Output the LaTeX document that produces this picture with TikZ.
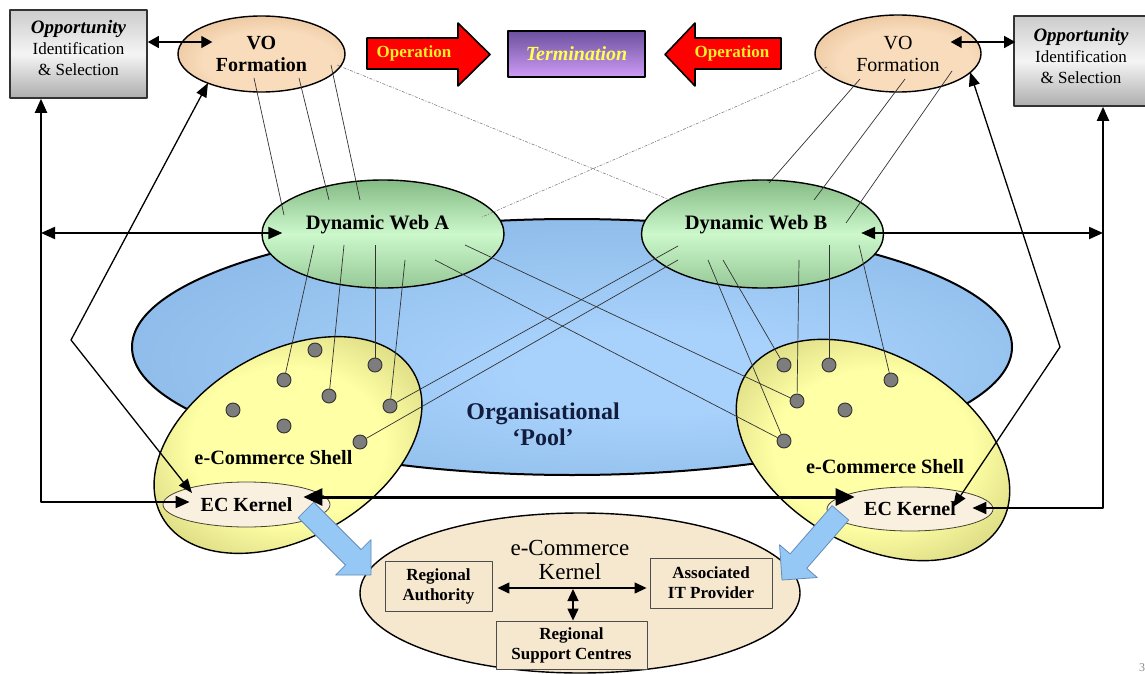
\documentclass[tikz,border=0pt]{standalone}
\usepackage{fontspec}
\setmainfont{Liberation Serif}
\usetikzlibrary{arrows.meta,calc,shapes.geometric}

\definecolor{poolin}{RGB}{168,210,252}
\definecolor{poolout}{RGB}{116,164,214}
\definecolor{shellin}{RGB}{255,255,165}
\definecolor{shellout}{RGB}{148,146,68}
\definecolor{voin}{RGB}{248,220,188}
\definecolor{voout}{RGB}{212,156,102}
\definecolor{webtop}{RGB}{132,186,132}
\definecolor{webmid}{RGB}{204,248,204}
\definecolor{webbot}{RGB}{150,200,150}
\definecolor{termtop}{RGB}{108,80,158}
\definecolor{termbot}{RGB}{206,156,246}
\definecolor{cream}{RGB}{246,232,206}
\definecolor{ecfill}{RGB}{250,240,224}
\definecolor{arrowblue}{RGB}{150,200,245}
\definecolor{arrowedge}{RGB}{100,140,185}
\definecolor{optext}{RGB}{255,238,40}
\definecolor{termtext}{RGB}{255,255,80}
\definecolor{dotfill}{RGB}{125,125,125}
\definecolor{pooltext}{RGB}{18,28,60}

\pgfdeclareradialshading{poolshade}{\pgfpoint{6bp}{-6bp}}{color(0bp)=(poolin); color(8bp)=(poolin); color(50bp)=(poolout)}
\pgfdeclareradialshading{shellshade}{\pgfpoint{0bp}{0bp}}{color(0bp)=(shellin); color(16bp)=(shellin); color(50bp)=(shellout)}
\pgfdeclareradialshading{voshade}{\pgfpoint{4bp}{-8bp}}{color(0bp)=(voin); color(20bp)=(voin); color(50bp)=(voout)}

\tikzset{
  oppbox/.style={draw=black!80, line width=1.6pt, top color=black!20, bottom color=black!32, middle color=black!4, inner sep=0pt},
  opptext/.style={align=center, font=\fontsize{17}{21}\selectfont},
  voell/.style={ellipse, draw=black, line width=1.4pt, shading=voshade, inner sep=0pt, align=center, font=\fontsize{20}{22}\selectfont},
  termbox/.style={draw=black, line width=1.4pt, top color=termtop, bottom color=termbot, inner sep=0pt, text=termtext, font=\fontsize{20}{22}\selectfont\bfseries\itshape},
  opshape/.style={draw=black, line width=1.6pt, fill=red},
  optextstyle/.style={text=optext, font=\fontsize{17}{20}\selectfont\bfseries},
  poolell/.style={ellipse, draw=black, line width=2pt, shading=poolshade, inner sep=0pt},
  poollabel/.style={text=pooltext, align=center, font=\fontsize{24}{26}\selectfont\bfseries},
  webell/.style={ellipse, draw=black, line width=1.4pt, top color=webtop, bottom color=webbot, middle color=webmid, inner sep=0pt},
  weblabel/.style={font=\fontsize{20.5}{22}\selectfont\bfseries},
  shellell/.style={ellipse, draw=black, line width=1.4pt, shading=shellshade, inner sep=0pt},
  shelllabel/.style={font=\fontsize{20.3}{22}\selectfont\bfseries},
  ecell/.style={ellipse, draw=black!65!olive, line width=0.8pt, fill=ecfill, inner sep=0pt, font=\fontsize{20}{22}\selectfont\bfseries},
  kernell/.style={ellipse, draw=black, line width=1.4pt, fill=cream, inner sep=0pt},
  kernlabel/.style={align=center, font=\fontsize{23}{24}\selectfont},
  kernbox/.style={draw=black!70, line width=0.9pt, fill=cream, inner sep=0pt, align=center, font=\fontsize{17}{20}\selectfont\bfseries},
  member/.style={circle, draw=black!80, line width=0.9pt, fill=dotfill, minimum size=14pt, inner sep=0pt},
  link/.style={draw=black!80, line width=0.7pt},
  faint/.style={draw=black!50, line width=0.6pt, dash pattern=on 3pt off 1.5pt on 1pt off 1.5pt},
  bluearrow/.style={fill=arrowblue, draw=arrowedge, line width=0.8pt},
  smallarrows/.style={line width=1.2pt, {Triangle[length=11pt,width=12pt]}-{Triangle[length=11pt,width=12pt]}},
  bigline/.style={line width=2pt, {Triangle[length=14pt,width=12pt]}-{Triangle[length=14pt,width=12pt]}},
  bentline/.style={line width=1.3pt, {Triangle[length=14pt,width=11pt]}-{Triangle[length=14pt,width=11pt]}},
  kernarrows/.style={line width=3pt, {Triangle[length=19pt,width=17pt]}-{Triangle[length=19pt,width=17pt]}},
  innerarrows/.style={line width=1.3pt, {Triangle[length=12pt,width=11pt]}-{Triangle[length=12pt,width=11pt]}},
}

\begin{document}
\begin{tikzpicture}[x=1pt,y=-1pt,line join=round]
\useasboundingbox (0,0) rectangle (1145,674);
\fill[white] (0,0) rectangle (1145,674);

% organisational pool with the two dynamic webs
\node[poolell, minimum width=880pt, minimum height=256pt] (pool) at (572,347) {};
\node[webell, minimum width=242pt, minimum height=108pt] (webA) at (383,234) {};
\node[webell, minimum width=242pt, minimum height=108pt] (webB) at (762.5,234) {};
\node[weblabel] (webAlabel) at (377.5,225) {Dynamic Web A};
\node[weblabel] (webBlabel) at (756,225) {Dynamic Web B};
\node[poollabel] (poollabel) at (543,424) {Organisational\\‘Pool’};

% e-commerce shells
\node[shellell, rotate=30, minimum width=290pt, minimum height=186pt] (shellA) at (288,445) {};
\node[shellell, rotate=-30, minimum width=296pt, minimum height=190pt] (shellB) at (873,450) {};
\node[shelllabel] (shellAlabel) at (273.5,458) {e-Commerce Shell};
\node[shelllabel] (shellBlabel) at (885,467) {e-Commerce Shell};

% member organisations
\node[member] (a1) at (315,350) {};
\node[member] (a2) at (375,365) {};
\node[member] (a3) at (284,380) {};
\node[member] (a4) at (329,396) {};
\node[member] (a5) at (390,406) {};
\node[member] (a6) at (233,410) {};
\node[member] (a7) at (284,426) {};
\node[member] (a8) at (360,442) {};
\node[member] (b1) at (784,365) {};
\node[member] (b2) at (829,365) {};
\node[member] (b3) at (891,380) {};
\node[member] (b4) at (797,401) {};
\node[member] (b5) at (845,410) {};
\node[member] (b6) at (784,441) {};

% VO formation ellipses
\node[voell, minimum width=167pt, minimum height=76pt, font=\fontsize{20}{22}\selectfont\bfseries] (voL) at (261.5,54) {VO\\Formation};
\node[voell, minimum width=166pt, minimum height=77pt] (voR) at (898,53.5) {VO\\Formation};

% web memberships
\draw[link] ($(webA)+(-69,11)$) -- (a3);
\draw[link] ($(webA)+(-39,11)$) -- (a4);
\draw[link] ($(webA)+(-8,11)$) -- (a2);
\draw[link] ($(webA)+(22,26)$) -- (a5);
\draw[link] ($(webA)+(82,11)$) -- (b4);
\draw[link] ($(webA)+(52,26)$) -- (b6);
\draw[link] ($(webB)+(-84.5,12)$) -- (a5);
\draw[link] ($(webB)+(-84.5,26)$) -- (a8);
\draw[link] ($(webB)+(-54.5,26)$) -- (b6);
\draw[link] ($(webB)+(-39.5,26)$) -- (b1);
\draw[link] ($(webB)+(36.5,26)$) -- (b4);
\draw[link] ($(webB)+(66.5,11)$) -- (b2);
\draw[link] ($(webB)+(96.5,11)$) -- (b3);

% VO formation to webs
\draw[link] ($(voL)+(-7.5,24)$) -- ($(webA)+(-99,-19)$);
\draw[link] ($(voL)+(37.5,24)$) -- ($(webA)+(-54,-34)$);
\draw[link] ($(voL)+(69.5,11)$) -- ($(webA)+(-23,-34)$);
\draw[link] ($(voR)+(-38,25.5)$) -- ($(webB)+(6.5,-51)$);
\draw[link] ($(voR)+(7,25.5)$) -- ($(webB)+(51.5,-34)$);
\draw[link] ($(voR)+(54,17.5)$) -- ($(webB)+(83.5,-11)$);
\draw[faint] ($(voL)+(75.5,11)$) -- ($(webB)+(-92.5,-34)$);
\draw[faint] ($(voR)+(-71,13.5)$) -- ($(webA)+(99,-17)$);

% EC kernels inside the shells
\node[ecell, minimum width=167pt, minimum height=45pt] (ecA) at (246.5,504.5) {EC Kernel};
\node[ecell, minimum width=166pt, minimum height=44pt] (ecB) at (910,509) {EC Kernel};

% regional e-commerce kernel
\node[kernell, minimum width=440pt, minimum height=160pt] (eck) at (580,593) {};
\node[kernlabel] (ecklabel) at (570,560) {e-Commerce\\Kernel};
\node[kernbox, minimum width=107pt, minimum height=50pt] (ra) at (438.5,586) {Regional\\Authority};
\node[kernbox, minimum width=122pt, minimum height=50pt] (itp) at (711,583) {Associated\\IT Provider};
\node[kernbox, minimum width=151pt, minimum height=48pt] (rsc) at (571.5,645) {Regional\\Support Centres};
\coordinate (kmid) at (573,589);
\draw[innerarrows] ($(ra.east)+(5,2)$) -- ($(itp.west)+(-3,5)$);
\draw[innerarrows] (kmid) -- (kmid |- rsc.north);

% hand-over from the EC kernels to the regional kernel
\coordinate (tipA) at (371,575);
\coordinate (tipB) at (782,580);
\begin{scope}[shift={(tipA)}, rotate=-45]
  \draw[bluearrow] (-92,-11) -- (-25,-11) -- (-25,-25) -- (0,0) -- (-25,25) -- (-25,11) -- (-92,11) -- cycle;
\end{scope}
\begin{scope}[shift={(tipB)}, rotate=-131]
  \draw[bluearrow] (-89,-11) -- (-25,-11) -- (-25,-25) -- (0,0) -- (-25,25) -- (-25,11) -- (-89,11) -- cycle;
\end{scope}

% opportunity boxes
\node[oppbox, minimum width=137pt, minimum height=88pt] (oppL) at (78.5,54) {};
\node[opptext] (oppLtext) at (78.5,48)
  {{\fontsize{19}{21}\bfseries\itshape Opportunity}\\Identification\\\&~Selection};
\node[oppbox, minimum width=134pt, minimum height=90pt] (oppR) at (1081,61) {};
\node[opptext] (oppRtext) at (1081,56)
  {{\fontsize{19}{21}\bfseries\itshape Opportunity}\\Identification\\\&~Selection};

% operation arrows and termination
\draw[opshape] (367,38) -- (458,38) -- (458,23) -- (490,54.5) -- (458,86) -- (458,69) -- (367,69) -- cycle;
\draw[opshape] (781,38) -- (695,38) -- (695,23) -- (665,54.5) -- (695,86) -- (695,69) -- (781,69) -- cycle;
\node[optextstyle] (opL) at (414,53.5) {Operation};
\node[optextstyle] (opR) at (732,53.5) {Operation};
\node[termbox, minimum width=137pt, minimum height=46pt] (term) at (576.5,54) {Termination};

% connectors
\draw[smallarrows] ($(oppL.east)+(0,-12)$) -- ($(voL.west)+(35,-12)$);
\draw[smallarrows] ($(voR.east)+(-31,-11.5)$) -- ($(oppR.west)+(2,-19)$);

\coordinate (leftbar) at ($(oppL.south)+(-37.5,0)$);
\coordinate (rightbar) at ($(oppR.south)+(22,0)$);
\coordinate (ecAin) at ($(ecA.west)+(27,-2.5)$);
\coordinate (ecBin) at ($(ecB.east)+(-21,-1)$);
\draw[bigline] (ecAin) -| (leftbar);
\draw[bigline] (ecBin) -| (rightbar);
\coordinate (webAin) at ($(webA.west)+(21,-1)$);
\coordinate (webBin) at ($(webB.east)+(-23,-1)$);
\draw[bigline] (leftbar |- webAin) -- (webAin);
\draw[bigline] (webBin) -- (rightbar |- webBin);

\coordinate (bendL) at (71,340);
\coordinate (bendR) at (1060,347);
\draw[bentline] ($(voL)+(-53.5,29)$) -- (bendL) -- ($(ecA)+(-54.5,-11.5)$);
\draw[bentline] ($(voR)+(72,18.5)$) -- (bendR) -- ($(ecB)+(43,-2)$);

\coordinate (ecAr) at ($(ecA.east)+(-27,-7.5)$);
\coordinate (ecBl) at ($(ecB.west)+(28,-12)$);
\draw[kernarrows] (ecAr) -- (ecBl);
\draw[line width=2.2pt] ($(term.south)+(47.5,0)$) -- ($(term.south)+(47.5,0)$ |- ecAr);

\node[text=black!45, font=\fontsize{12}{12}\selectfont, anchor=west, inner sep=0pt] (pageno) at (1139,668) {3};
\end{tikzpicture}
\end{document}
